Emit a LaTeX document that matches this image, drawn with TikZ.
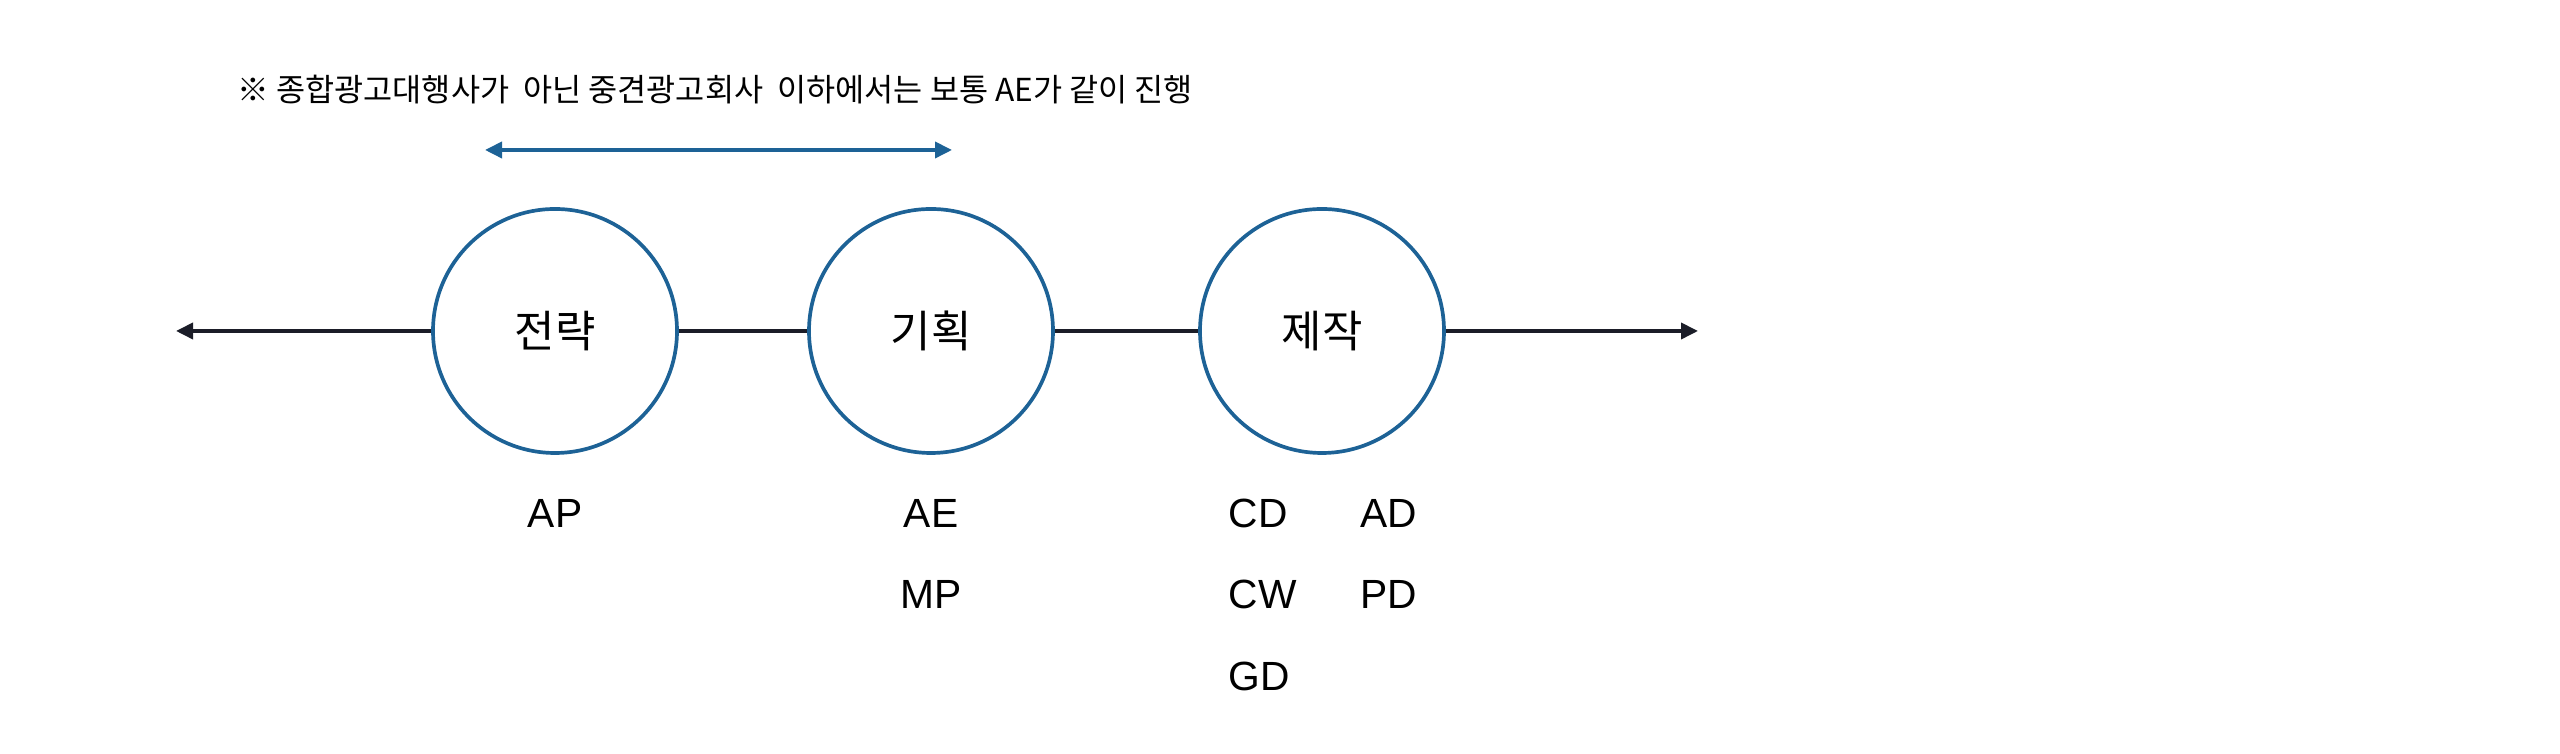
\documentclass[tikz,border=0pt]{standalone}
\usepackage{fontspec}
\setmainfont{Noto Sans CJK KR}
\newfontfamily\latinface{Liberation Sans}
\usetikzlibrary{arrows.meta}
\definecolor{stageblue}{HTML}{1D6296}
\definecolor{lineink}{HTML}{1B1D28}
\begin{document}
\begin{tikzpicture}[
  stage/.style={circle,draw=stageblue,line width=1.05pt,minimum size=2.44cm,inner sep=0pt,font=\fontsize{12.5}{14}\selectfont},
  role/.style={font=\latinface\fontsize{11.6}{14}\selectfont,inner sep=0pt},
  flow/.style={lineink,line width=1.05pt},
  tip/.style={-{Triangle[length=0.17cm,width=0.16cm]}}]
\useasboundingbox (0,0) rectangle (25.6,7.54);
\node[anchor=west,inner sep=0pt,font=\fontsize{9}{11}\selectfont] (note) at (2.37,6.64) {※ 종합광고대행사가\ \ 아닌 중견광고회사\ \ 이하에서는 보통 AE가 같이 진행};
\node[stage] (strategy) at (5.55,4.23) {전략};
\node[stage] (planning) at (9.31,4.23) {기획};
\node[stage] (production) at (13.22,4.23) {제작};
\coordinate (leftend) at (1.76,4.23);
\coordinate (rightend) at (16.98,4.23);
\coordinate (aeleft) at (4.85,6.04);
\coordinate (aeright) at (9.52,6.04);
\draw[flow,tip] (strategy) -- (leftend);
\draw[flow] (strategy) -- (planning);
\draw[flow] (planning) -- (production);
\draw[flow,tip] (production) -- (rightend);
\draw[stageblue,line width=1.05pt,{Triangle[length=0.17cm,width=0.16cm]}-{Triangle[length=0.17cm,width=0.16cm]}] (aeleft) -- (aeright);
\node[role] (ap) at (5.55,2.41) {AP};
\node[role] (ae) at (9.31,2.41) {AE};
\node[role] (mp) at (9.31,1.60) {MP};
\node[role,anchor=west] (cd) at (12.28,2.41) {CD};
\node[role,anchor=west] (cw) at (12.28,1.60) {CW};
\node[role,anchor=west] (gd) at (12.28,0.78) {GD};
\node[role,anchor=west] (ad) at (13.60,2.41) {AD};
\node[role,anchor=west] (pd) at (13.60,1.60) {PD};
\end{tikzpicture}
\end{document}
